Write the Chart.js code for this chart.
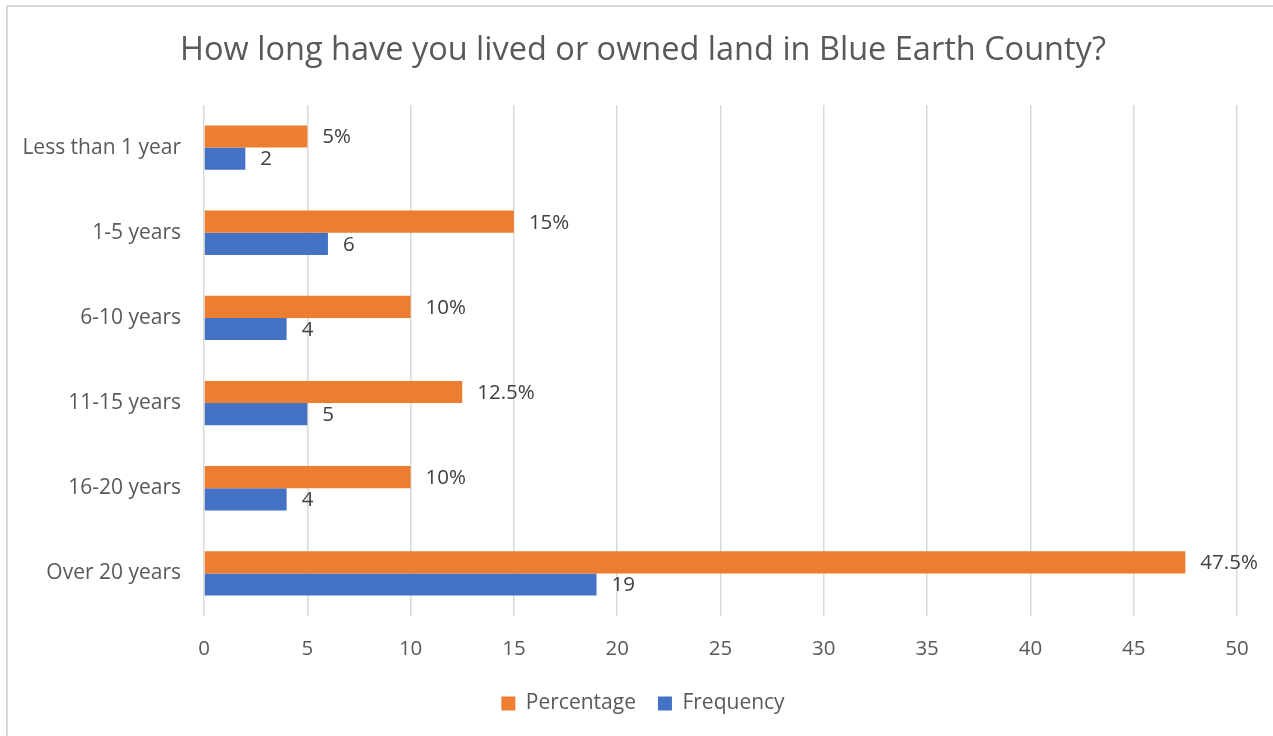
<!DOCTYPE html>
<html>
<head>
<meta charset="utf-8">
<title>Blue Earth County residency</title>
<script src="https://cdn.jsdelivr.net/npm/chart.js@4"></script>
<style>
  html, body { margin: 0; padding: 0; background: #fff; overflow: hidden; }
  body { width: 1273px; height: 736px; position: relative; }
  .frame {
    position: absolute; left: 6px; top: 5px; width: 1300px; height: 800px;
    border: 2px solid #d9d9d9; box-sizing: border-box;
  }
  .wrap { position: absolute; left: 0; top: 0; width: 1290px; height: 736px; }
</style>
</head>
<body>
<div class="frame"></div>
<div class="wrap"><canvas id="chart" width="1290" height="736"></canvas></div>
<script>
// Survey question: years lived / owned land in Blue Earth County
var categories = ["Less than 1 year", "1-5 years", "6-10 years", "11-15 years", "16-20 years", "Over 20 years"];
var percentage = [5, 15, 10, 12.5, 10, 47.5];
var frequency = [2, 6, 4, 5, 4, 19];
var xTicks = [0, 5, 10, 15, 20, 25, 30, 35, 40, 45, 50];

(function () {
  "use strict";

  var FONT = "'Open Sans', sans-serif";
  var TEXT = "#595959";

  // value labels to the right of each bar
  var barLabels = {
    id: "barLabels",
    afterDatasetsDraw: function (chart) {
      var ctx = chart.ctx;
      ctx.save();
      ctx.font = "20.5px " + FONT;
      ctx.fillStyle = "#404040";
      ctx.textBaseline = "middle";
      ctx.textAlign = "left";
      chart.data.datasets.forEach(function (ds, i) {
        var meta = chart.getDatasetMeta(i);
        meta.data.forEach(function (bar, j) {
          var v = ds.data[j];
          var txt = ds.label === "Percentage" ? v + "%" : String(v);
          ctx.fillText(txt, bar.x + 15, bar.y + 1);
        });
      });
      ctx.restore();
    }
  };

  new Chart(document.getElementById("chart").getContext("2d"), {
    type: "bar",
    data: {
      labels: categories,
      datasets: [
        { label: "Percentage", data: percentage, backgroundColor: "#ED7D31", yAxisID: "y" },
        { label: "Frequency", data: frequency, backgroundColor: "#4472C4", yAxisID: "y" }
      ]
    },
    options: {
      indexAxis: "y",
      responsive: false,
      animation: false,
      categoryPercentage: 0.52,
      barPercentage: 1.0,
      layout: { padding: { left: 8, right: 12, top: 0, bottom: 12 } },
      scales: {
        x: {
          min: 0,
          max: 50,
          afterBuildTicks: function (axis) {
            axis.ticks = xTicks.map(function (v) { return { value: v }; });
          },
          grid: { color: "#d9d9d9", lineWidth: 1.5, drawTicks: false },
          border: { display: false },
          ticks: { color: TEXT, font: { family: FONT, size: 20.5 }, padding: 21 },
          afterFit: function (axis) { axis.height = 55; }
        },
        y: {
          grid: { display: false },
          border: { display: false },
          ticks: { color: TEXT, font: { family: FONT, size: 21 }, padding: 15 },
          afterFit: function (axis) { axis.width = 196; }
        },
        // empty right-hand spacer so the title and legend centre on the frame
        yRight: {
          type: "category",
          position: "right",
          grid: { display: false },
          border: { display: false },
          ticks: { display: false },
          afterFit: function (axis) { axis.width = 41; }
        }
      },
      plugins: {
        title: {
          display: true,
          text: "How long have you lived or owned land in Blue Earth County?",
          color: TEXT,
          font: { family: FONT, size: 32.5, weight: "normal" },
          padding: { top: 31, bottom: 35 }
        },
        legend: {
          position: "bottom",
          labels: {
            color: TEXT,
            font: { family: FONT, size: 21 },
            boxWidth: 14,
            boxHeight: 14,
            padding: 22
          }
        },
        tooltip: { enabled: false }
      }
    },
    plugins: [barLabels]
  });
})();
</script>
</body>
</html>
